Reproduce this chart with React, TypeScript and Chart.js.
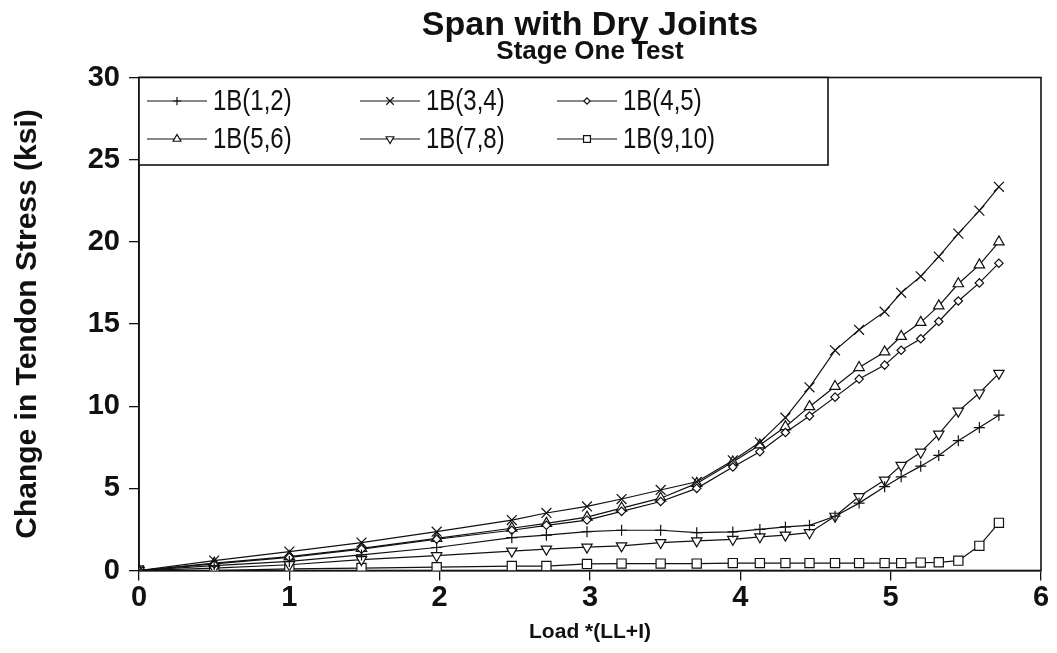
import React, { useEffect, useRef } from "react";
import { Chart, registerables } from "chart.js";

Chart.register(...registerables);

// Load *(LL+I) values (shared by every gauge series)
const loads = [0, 0.5, 1.0, 1.48, 1.98, 2.48, 2.71, 2.98, 3.21, 3.47, 3.71, 3.95, 4.13, 4.3, 4.46, 4.63, 4.79, 4.96, 5.07, 5.2, 5.32, 5.45, 5.59, 5.72];

// Change in tendon stress (ksi)
const s1B_1_2 = [0, 0.3, 0.55, 0.95, 1.4, 2.0, 2.15, 2.36, 2.45, 2.45, 2.3, 2.35, 2.5, 2.65, 2.75, 3.3, 4.1, 5.1, 5.7, 6.35, 7.0, 7.9, 8.7, 9.45];
const s1B_3_4 = [0, 0.6, 1.15, 1.7, 2.36, 3.07, 3.5, 3.9, 4.35, 4.9, 5.4, 6.7, 7.8, 9.3, 11.15, 13.4, 14.65, 15.75, 16.9, 17.9, 19.1, 20.5, 21.9, 23.35];
const s1B_4_5 = [0, 0.4, 0.8, 1.3, 1.9, 2.45, 2.75, 3.07, 3.6, 4.2, 5.0, 6.3, 7.23, 8.4, 9.4, 10.55, 11.65, 12.5, 13.4, 14.1, 15.15, 16.4, 17.5, 18.7];
const s1B_5_6 = [0, 0.45, 0.85, 1.35, 1.96, 2.57, 2.87, 3.25, 3.8, 4.4, 5.3, 6.6, 7.64, 8.75, 9.97, 11.2, 12.35, 13.3, 14.25, 15.1, 16.1, 17.45, 18.6, 20.0];
const s1B_7_8 = [0, 0.15, 0.35, 0.66, 0.9, 1.18, 1.3, 1.42, 1.5, 1.7, 1.8, 1.9, 2.05, 2.15, 2.3, 3.3, 4.5, 5.5, 6.4, 7.2, 8.3, 9.7, 10.8, 12.0];
const s1B_9_10 = [0, 0, 0.1, 0.15, 0.2, 0.27, 0.27, 0.4, 0.42, 0.42, 0.42, 0.45, 0.45, 0.45, 0.45, 0.45, 0.45, 0.45, 0.45, 0.48, 0.5, 0.6, 1.5, 2.9];

const seriesLabels = ["1B(1,2)", "1B(3,4)", "1B(4,5)", "1B(5,6)", "1B(7,8)", "1B(9,10)"];
const seriesValues = [s1B_1_2, s1B_3_4, s1B_4_5, s1B_5_6, s1B_7_8, s1B_9_10];

const titleText = "Span with Dry Joints";
const subtitleText = "Stage One Test";
const xTitle = "Load *(LL+I)";
const yTitle = "Change in Tendon Stress (ksi)";
const xMin = 0, xMax = 6, xStep = 1;
const yMin = 0, yMax = 30, yStep = 5;

// marker styling (style, radius, rotation)
const markers = [
  { style: "cross", r: 5.5, rot: 0 },
  { style: "crossRot", r: 7, rot: 0 },
  { style: "rectRot", r: 4.2, rot: 0 },
  { style: "triangle", r: 6, rot: 0 },
  { style: "triangle", r: 6, rot: 180 },
  { style: "rect", r: 6.5, rot: 0 },
];

const FONT = '"Liberation Sans", Arial, sans-serif';

function drawMarker(ctx: CanvasRenderingContext2D, style: string, x: number, y: number, r: number, rot: number) {
  ctx.save();
  ctx.translate(x, y);
  ctx.rotate((rot * Math.PI) / 180);
  ctx.beginPath();
  if (style === "cross") {
    ctx.moveTo(-r, 0); ctx.lineTo(r, 0);
    ctx.moveTo(0, -r); ctx.lineTo(0, r);
    ctx.stroke();
  } else if (style === "crossRot") {
    const d = r * Math.SQRT1_2;
    ctx.moveTo(-d, -d); ctx.lineTo(d, d);
    ctx.moveTo(-d, d); ctx.lineTo(d, -d);
    ctx.stroke();
  } else if (style === "rectRot") {
    ctx.moveTo(0, -r); ctx.lineTo(r, 0); ctx.lineTo(0, r); ctx.lineTo(-r, 0); ctx.closePath();
    ctx.fill(); ctx.stroke();
  } else if (style === "triangle") {
    for (let k = 0; k < 3; k++) {
      const a = (k * 2 * Math.PI) / 3;
      const px = Math.sin(a) * r, py = -Math.cos(a) * r;
      if (k === 0) ctx.moveTo(px, py); else ctx.lineTo(px, py);
    }
    ctx.closePath();
    ctx.fill(); ctx.stroke();
  } else {
    const s = r * Math.SQRT1_2;
    ctx.rect(-s, -s, 2 * s, 2 * s);
    ctx.fill(); ctx.stroke();
  }
  ctx.restore();
}

const framePlugin = {
  id: "frame",
  beforeDatasetsDraw(chart: any) {
    const { ctx, chartArea } = chart;
    ctx.save();
    ctx.strokeStyle = "#111";
    ctx.lineWidth = 1.6;
    ctx.strokeRect(chartArea.left, chartArea.top, chartArea.right - chartArea.left, chartArea.bottom - chartArea.top);
    ctx.restore();
  },
};

const legendPlugin = {
  id: "boxLegend",
  afterDraw(chart: any) {
    const { ctx, chartArea } = chart;
    const left = chartArea.left;
    const top = chartArea.top;
    const right = 828;
    const bottom = 165;
    ctx.save();
    ctx.fillStyle = "#fff";
    ctx.fillRect(left, top, right - left, bottom - top);
    ctx.strokeStyle = "#111";
    ctx.lineWidth = 1.6;
    ctx.strokeRect(left, top, right - left, bottom - top);
    const colX = [8, 221, 418];
    const rowY = [23.5, 61.5];
    chart.data.datasets.forEach((ds: any, i: number) => {
      const col = i % 3;
      const row = Math.floor(i / 3);
      const x0 = left + colX[col];
      const y = top + rowY[row];
      ctx.strokeStyle = "#111";
      ctx.fillStyle = "#fff";
      ctx.lineWidth = 1.2;
      ctx.beginPath();
      ctx.moveTo(x0, y);
      ctx.lineTo(x0 + 60, y);
      ctx.stroke();
      const m = markers[i];
      drawMarker(ctx, m.style, x0 + 30, y, m.r * 0.75, m.rot);
      ctx.fillStyle = "#111";
      ctx.font = `400 30px ${FONT}`;
      ctx.textBaseline = "middle";
      ctx.textAlign = "left";
      ctx.save();
      ctx.translate(x0 + 66, y + 1);
      ctx.scale(0.8, 1);
      ctx.fillText(ds.label, 0, 0);
      ctx.restore();
    });
    ctx.restore();
  },
};

export default function App() {
  const canvasRef = useRef<HTMLCanvasElement | null>(null);

  useEffect(() => {
    if (!canvasRef.current) return;
    const datasets = seriesValues.map((vals, i) => ({
      label: seriesLabels[i],
      data: loads.map((x, j) => ({ x, y: vals[j] })),
      borderColor: "#111",
      borderWidth: 1.2,
      backgroundColor: "#fff",
      pointStyle: markers[i].style,
      pointRadius: markers[i].r,
      pointRotation: markers[i].rot,
      pointBorderColor: "#111",
      pointBackgroundColor: "#fff",
      pointBorderWidth: 1.2,
      tension: 0,
      fill: false,
    }));

    const chart = new Chart(canvasRef.current, {
      type: "line",
      data: { datasets },
      options: {
        animation: false,
        responsive: true,
        maintainAspectRatio: false,
        layout: { padding: { left: 0, right: 16, top: 0, bottom: 0 } },
        plugins: {
          legend: { display: false },
          tooltip: { enabled: false },
          title: {
            display: true,
            text: titleText,
            fullSize: false,
            color: "#111",
            font: { family: FONT, size: 34, weight: "bold", lineHeight: 0.8 },
            padding: { top: 12.4, bottom: 0 },
          },
          subtitle: {
            display: true,
            text: subtitleText,
            fullSize: false,
            color: "#111",
            font: { family: FONT, size: 26, weight: "bold", lineHeight: 0.8 },
            padding: { top: 2, bottom: 15.1 },
          },
        },
        scales: {
          x: {
            type: "linear",
            min: xMin,
            max: xMax,
            afterFit: (s: any) => { s.height = 82.5; },
            ticks: { stepSize: xStep, color: "#111", font: { family: FONT, size: 29, weight: "bold" }, padding: 0, maxRotation: 0 },
            grid: { display: true, drawOnChartArea: false, drawTicks: true, tickLength: 10, color: "#111", lineWidth: 1.3 },
            border: { display: true, color: "#111", width: 1.6 },
            title: { display: true, text: xTitle, color: "#111", font: { family: FONT, size: 21, weight: "bold" }, padding: { top: 0, bottom: 8 } },
          },
          y: {
            type: "linear",
            min: yMin,
            max: yMax,
            afterFit: (s: any) => { s.width = 139; },
            ticks: { stepSize: yStep, color: "#111", font: { family: FONT, size: 29, weight: "bold" }, padding: 9 },
            grid: { display: true, drawOnChartArea: false, drawTicks: true, tickLength: 10, color: "#111", lineWidth: 1.3 },
            border: { display: true, color: "#111", width: 1.6 },
            title: { display: true, text: yTitle, color: "#111", font: { family: FONT, size: 30, weight: "bold" }, padding: { top: 10, bottom: 0 } },
          },
        },
      } as any,
      plugins: [framePlugin, legendPlugin],
    });
    return () => chart.destroy();
  }, []);

  return (
    <div style={{ position: "fixed", left: 0, top: 0, width: 1057, height: 653, background: "#fff" }}>
      <canvas ref={canvasRef} />
    </div>
  );
}
